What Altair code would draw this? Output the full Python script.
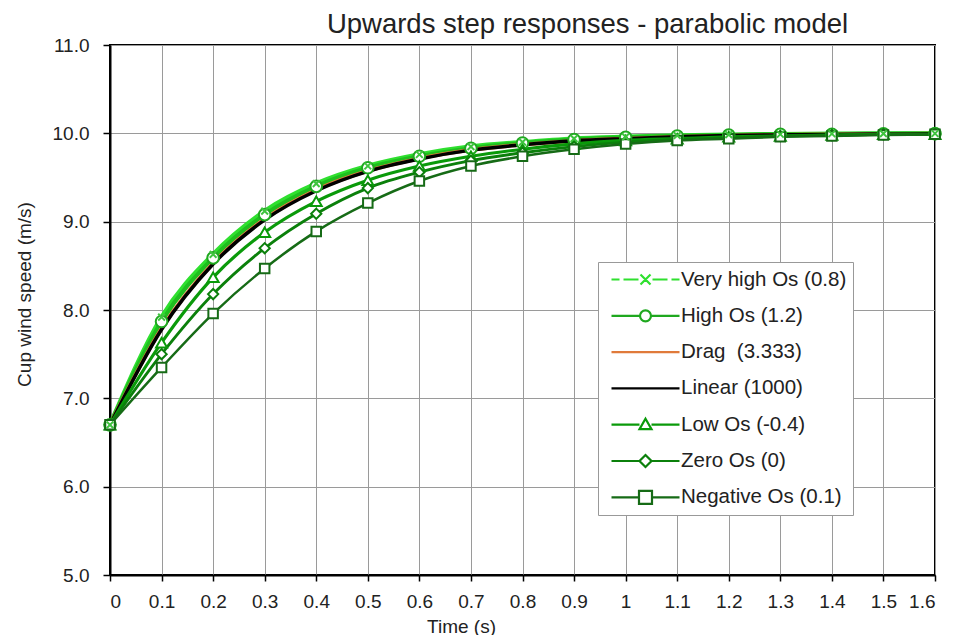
import altair as alt
import pandas as pd

times = [0, 0.1, 0.2, 0.3, 0.4, 0.5, 0.6, 0.7, 0.8, 0.9, 1.0, 1.1, 1.2, 1.3, 1.4, 1.5, 1.6]

series_names = [
    "Very high Os (0.8)",
    "High Os (1.2)",
    "Drag\u00a0 (3.333)",
    "Linear (1000)",
    "Low Os (-0.4)",
    "Zero Os (0)",
    "Negative Os (0.1)",
]

very_high = [6.70, 7.92, 8.63, 9.12, 9.43, 9.63, 9.76, 9.85, 9.90, 9.94, 9.96, 9.975, 9.985, 9.99, 9.995, 9.997, 9.998]
high = [6.70, 7.87, 8.59, 9.08, 9.40, 9.61, 9.74, 9.83, 9.89, 9.93, 9.955, 9.97, 9.98, 9.99, 9.99, 9.995, 9.997]
drag = [6.70, 7.79, 8.53, 9.03, 9.36, 9.575, 9.715, 9.812, 9.872, 9.915, 9.94, 9.96, 9.975, 9.983, 9.988, 9.992, 9.995]
linear = [6.70, 7.78, 8.52, 9.02, 9.35, 9.57, 9.71, 9.81, 9.87, 9.915, 9.94, 9.96, 9.975, 9.983, 9.988, 9.992, 9.995]
low = [6.70, 7.63, 8.37, 8.88, 9.23, 9.47, 9.63, 9.74, 9.82, 9.88, 9.92, 9.94, 9.96, 9.97, 9.98, 9.99, 9.99]
zero = [6.70, 7.50, 8.18, 8.70, 9.09, 9.38, 9.56, 9.69, 9.78, 9.85, 9.90, 9.93, 9.95, 9.97, 9.98, 9.99, 9.99]
negative = [6.70, 7.35, 7.96, 8.47, 8.89, 9.21, 9.46, 9.63, 9.74, 9.82, 9.88, 9.92, 9.94, 9.96, 9.97, 9.98, 9.99]

all_values = [very_high, high, drag, linear, low, zero, negative]

line_colors = ["#2fe02f", "#1fbf1f", "#e07a3a", "#000000", "#0a9a0a", "#0b800b", "#166b16"]
line_widths = [4.5, 2.5, 2.5, 2.5, 2.5, 2.5, 2.5]
marker_series = ["Very high Os (0.8)", "High Os (1.2)", "Low Os (-0.4)", "Zero Os (0)", "Negative Os (0.1)"]
marker_colors = ["#3fc43f", "#1fa81f", "#0a9a0a", "#0b800b", "#166b16"]
marker_shapes = [
    "M-0.55,-0.55L0.55,0.55M-0.55,0.55L0.55,-0.55",
    "circle",
    "triangle-up",
    "diamond",
    "square",
]
marker_sizes = [150, 90, 110, 110, 150]
marker_draw_order = [6, 0, 2, 3, 4]

legend_colors = ["#2fe02f", "#1fa81f", "#e07a3a", "#000000", "#0a9a0a", "#0b800b", "#166b16"]
legend_paths = [
    "M-3.4,0H-2.6M-2.2,0H-0.7M-0.5,-0.5L0.5,0.5M-0.5,0.5L0.5,-0.5M0.7,0H2.2M2.6,0H3.4",
    "M-3.4,0H-0.55M0.55,0H3.4M0.55,0A0.55,0.55 0 1,1 -0.55,0A0.55,0.55 0 1,1 0.55,0Z",
    "M-3.4,0H3.4",
    "M-3.4,0H3.4",
    "M-3.4,0H-0.6M0.6,0H3.4M0,-0.6L0.6,0.45L-0.6,0.45Z",
    "M-3.4,0H-0.6M0.6,0H3.4M0,-0.6L0.6,0L0,0.6L-0.6,0Z",
    "M-3.4,0H-0.65M0.65,0H3.4M-0.65,-0.65H0.65V0.65H-0.65Z",
]

rows = []
for name, vals in zip(series_names, all_values):
    for t, v in zip(times, vals):
        mz = marker_draw_order[marker_series.index(name)] if name in marker_series else 0
        rows.append({"time": t, "speed": v, "series": name, "lseries": name, "mz": mz})
df = pd.DataFrame(rows)

FONT = "Liberation Sans"

x_enc = alt.X(
    "time:Q",
    scale=alt.Scale(domain=[0, 1.6], nice=False),
    axis=alt.Axis(
        values=times,
        format=".1~f",
        title="Time (s)",
        titleX=351,
        titleY=42,
        titleBaseline="top",
        labelPadding=11,
        tickSize=6,
    ),
)
y_enc = alt.Y(
    "speed:Q",
    scale=alt.Scale(domain=[5, 11], nice=False, zero=False),
    axis=alt.Axis(
        values=[5, 6, 7, 8, 9, 10, 11],
        format=".1f",
        title="Cup wind speed (m/s)",
        titleX=-86,
        titleY=249,
        titleAngle=-90,
        titleBaseline="middle",
        titleAlign="center",
        labelPadding=14,
        tickSize=7,
    ),
)

lines = alt.Chart(df).mark_line(interpolate="monotone").encode(
    x=x_enc,
    y=y_enc,
    color=alt.Color("series:N", scale=alt.Scale(domain=series_names, range=line_colors), legend=None),
    strokeWidth=alt.StrokeWidth("series:N", scale=alt.Scale(domain=series_names, range=line_widths), legend=None),
    order=alt.Order("time:Q"),
)

points = alt.Chart(df).transform_filter(
    alt.FieldOneOfPredicate(field="series", oneOf=marker_series)
).mark_point(filled=False, fill="white", strokeWidth=2, opacity=1).encode(
    x="time:Q",
    y="speed:Q",
    shape=alt.Shape("series:N", scale=alt.Scale(domain=marker_series, range=marker_shapes), legend=None),
    stroke=alt.Stroke("series:N", scale=alt.Scale(domain=marker_series, range=marker_colors), legend=None),
    size=alt.Size("series:N", scale=alt.Scale(domain=marker_series, range=marker_sizes), legend=None),
    order=alt.Order("mz:Q"),
)

legend_layer = alt.Chart(df).mark_point(filled=False, opacity=0, strokeWidth=2.2, size=400).encode(
    x="time:Q",
    y="speed:Q",
    color=alt.Color(
        "lseries:N",
        scale=alt.Scale(domain=series_names, range=legend_colors),
        legend=alt.Legend(
            title=None,
            orient="none",
            legendX=488,
            legendY=217,
            symbolOpacity=1,
            symbolSize=400,
            symbolStrokeWidth=2.2,
            symbolFillColor="white",
            symbolOffset=30,
            labelOffset=24,
            labelFontSize=20.5,
            labelFont=FONT,
            labelColor="#222222",
            rowPadding=14.3,
            padding=6,
            fillColor="white",
            strokeColor="#999999",
            labelLimit=400,
        ),
    ),
    shape=alt.Shape("lseries:N", scale=alt.Scale(domain=series_names, range=legend_paths)),
)

chart = alt.layer(lines, points, legend_layer).resolve_scale(
    color="independent", shape="independent"
).properties(
    width=825,
    height=530,
    title=alt.TitleParams(
        "Upwards step responses - parabolic model",
        fontSize=27.5,
        font=FONT,
        fontWeight="normal",
        color="#222222",
        anchor="middle",
        dx=65,
        offset=-2,
    ),
    autosize=alt.AutoSizeParams(type="none"),
    padding={"left": 102, "top": 37, "right": 12, "bottom": 60},
).configure_view(
    stroke="black", strokeWidth=2
).configure_axis(
    labelFont=FONT,
    titleFont=FONT,
    labelFontSize=19,
    titleFontSize=19,
    titleFontWeight="normal",
    labelColor="#222222",
    titleColor="#222222",
    gridColor="#9a9a9a",
    gridWidth=1,
    domainColor="black",
    domainWidth=2,
    tickColor="black",
    tickWidth=1.5,
)

chart.save("out.html", embed_options={"renderer": "svg", "actions": False})
